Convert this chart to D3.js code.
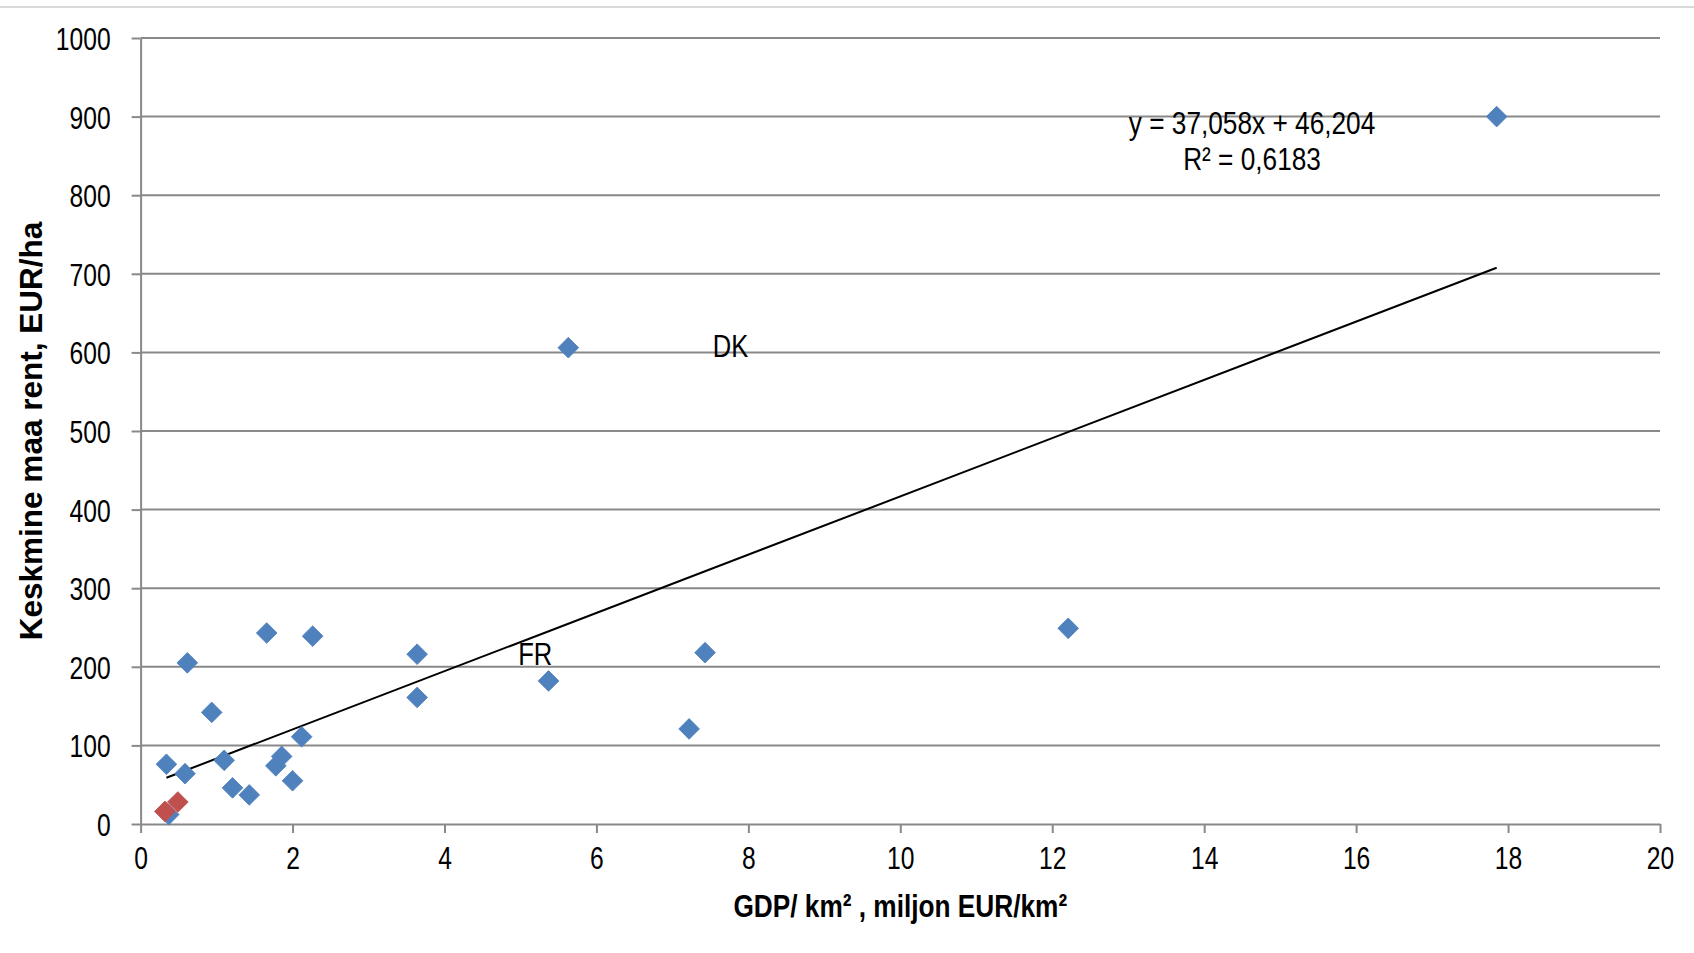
<!DOCTYPE html>
<html lang="et">
  <head>
    <meta charset="utf-8">
    <title>Maa rent ja GDP</title>
    <script src="https://d3js.org/d3.v7.min.js" charset="utf-8"></script>
    <style>
      body { margin: 0; background: #fff; }
      text { fill: #000; }
    </style>
  </head>
  <body>
    <script type="text/javascript">
      // GDP density (miljon EUR/km2) and mean land rent (EUR/ha)
      var gdpDensity = [0.34, 0.37, 0.585, 0.615, 0.936, 1.10, 1.21, 1.43, 1.66, 1.78,
                        1.857, 2.0, 2.12, 2.265, 3.64, 3.64, 5.37, 5.63, 7.22, 7.43,
                        12.21, 17.85];
      var landRent   = [76, 12, 64, 205, 142, 81, 46, 37, 243, 74,
                        86, 55, 111, 239, 216, 161, 182, 606, 121, 218,
                        249, 900];
      // second series (red)
      var redGdp  = [0.32, 0.49];
      var redRent = [16, 28];

      var xTicks = [0, 2, 4, 6, 8, 10, 12, 14, 16, 18, 20];
      var yTicks = [0, 100, 200, 300, 400, 500, 600, 700, 800, 900, 1000];

      var trendSlope = 37.058;
      var trendIntercept = 46.204;
      var trendText = ["y = 37,058x + 46,204", "R\u00b2 = 0,6183"];

      var pointLabels = [
        {name: "DK", x: 7.53, y: 594},
        {name: "FR", x: 4.97, y: 202}
      ];

      var W = 1694, H = 953;
      var mLeft = 140.6, mRight = 1660, mTop = 38, mBottom = 824;
      var font = "'Liberation Sans', Arial, sans-serif";
      var grid = "#898989";

      // no Arial Narrow here: move x/y into a transform and squeeze the text
      function narrow(k){
        return function(sel){
          sel.each(function(){
            var t = d3.select(this);
            var tx = +t.attr("x") || 0, ty = +t.attr("y") || 0;
            t.attr("x", 0).attr("y", 0)
             .attr("transform", "translate(" + tx + "," + ty + ") scale(" + k + ",1)");
          });
        };
      }

      var svg = d3.select("body")
                  .append("svg")
                  .attr("width", W)
                  .attr("height", H);

      // thin border line at the very top
      svg.append("line")
         .attr("x1", 0).attr("x2", W)
         .attr("y1", 7).attr("y2", 7)
         .attr("stroke", "#d9d9d9")
         .attr("stroke-width", 2);

      var x = d3.scaleLinear().domain([0, 20]).range([mLeft, mRight]);
      var y = d3.scaleLinear().domain([0, 1000]).range([mBottom, mTop]);

      // horizontal gridlines
      svg.append("g")
         .selectAll("line")
         .data(yTicks.slice(1))
         .enter()
         .append("line")
           .attr("x1", mLeft)
           .attr("x2", mRight)
           .attr("y1", function(d){ return y(d); })
           .attr("y2", function(d){ return y(d); })
           .attr("stroke", grid)
           .attr("stroke-width", 2);

      // y axis
      var yAxis = svg.append("g")
         .attr("transform", "translate(" + mLeft + ",0)")
         .call(d3.axisLeft(y).tickValues(yTicks).tickFormat(d3.format("d"))
                 .tickSize(9).tickPadding(21).tickSizeOuter(0));

      // x axis
      var xAxis = svg.append("g")
         .attr("transform", "translate(0," + mBottom + ")")
         .call(d3.axisBottom(x).tickValues(xTicks).tickFormat(d3.format("d"))
                 .tickSize(9).tickPadding(13).tickSizeOuter(0));

      [yAxis, xAxis].forEach(function(a){
        a.select(".domain").attr("stroke", grid).attr("stroke-width", 2);
        a.selectAll(".tick line").attr("stroke", grid).attr("stroke-width", 2);
        a.selectAll(".tick text")
         .attr("font-family", font)
         .attr("font-size", 32)
         .attr("fill", "#000");
      });
      yAxis.selectAll(".tick text").attr("dy", "0.36em").call(narrow(0.77));
      xAxis.selectAll(".tick text").call(narrow(0.77));

      // trend line over the range of the data
      var xr = d3.extent(gdpDensity);
      svg.append("line")
         .attr("x1", x(xr[0]))
         .attr("y1", y(trendSlope * xr[0] + trendIntercept))
         .attr("x2", x(xr[1]))
         .attr("y2", y(trendSlope * xr[1] + trendIntercept))
         .attr("stroke", "#000")
         .attr("stroke-width", 2);

      var diamond = d3.symbol().type(d3.symbolSquare).size(214);

      function drawPoints(xs, ys, color){
        svg.append("g")
           .selectAll("path")
           .data(xs)
           .enter()
           .append("path")
             .attr("d", diamond)
             .attr("transform", function(d, i){
               return "translate(" + x(d) + "," + y(ys[i]) + ") rotate(45)";
             })
             .attr("fill", color)
             .attr("stroke", color)
             .attr("stroke-width", 0.8);
      }
      drawPoints(gdpDensity, landRent, "#4f81bd");
      drawPoints(redGdp, redRent, "#c0504d");

      // labels for single countries
      svg.append("g")
         .selectAll("text")
         .data(pointLabels)
         .enter()
         .append("text")
           .text(function(d){ return d.name; })
           .attr("x", function(d){ return x(d.x); })
           .attr("y", function(d){ return y(d.y); })
           .attr("font-family", font)
           .attr("font-size", 32)
           .call(narrow(0.8));

      // trend equation
      svg.append("g")
         .selectAll("text")
         .data(trendText)
         .enter()
         .append("text")
           .text(function(d){ return d; })
           .attr("x", x(14.63))
           .attr("y", function(d, i){ return y(878) + i * 36; })
           .attr("text-anchor", "middle")
           .attr("font-family", font)
           .attr("font-size", 32)
           .call(narrow(0.82));

      // axis titles
      svg.append("text")
         .text("GDP/ km\u00b2 , miljon EUR/km\u00b2")
         .attr("x", (mLeft + mRight) / 2)
         .attr("y", 917)
         .attr("text-anchor", "middle")
         .attr("font-family", font)
         .attr("font-weight", "bold")
         .attr("font-size", 32)
         .call(narrow(0.82));

      svg.append("text")
         .text("Keskmine maa rent, EUR/ha")
         .attr("transform", "translate(42," + (mTop + mBottom) / 2 + ") rotate(-90)")
         .attr("text-anchor", "middle")
         .attr("font-family", font)
         .attr("font-weight", "bold")
         .attr("font-size", 31.5);
    </script>
  </body>
</html>
